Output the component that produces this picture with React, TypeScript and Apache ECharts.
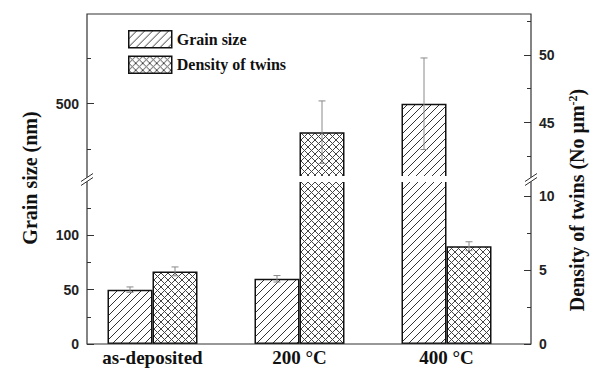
import React, { useEffect, useRef } from "react";
import * as echarts from "echarts";

// ---- data ----
const categories = ["as-deposited", "200 °C", "400 °C"];
const grainSize = [50, 60, 500];
const grainSizeErr = [2.5, 3, 25];
const twinDensity = [4.9, 44.3, 6.6];
const twinDensityErr = [0.3, 2.3, 0.3];

// axis ranges (broken axes)
const leftLowerRange = [0, 150];
const leftUpperRange = [460, 549];
const rightLowerRange = [0, 11];
const rightUpperRange = [41, 53];

// tick labels / ticks
const leftLowerLabels = [0, 50, 100];
const leftLowerMinor = [25, 75, 125];
const leftUpperLabels = [500];
const leftUpperMinor = [475, 525];
const rightLowerLabels = [0, 5, 10];
const rightLowerMinor = [2.5, 7.5];
const rightUpperLabels = [45, 50];
const rightUpperMinor = [42.5, 47.5, 52.5];

const leftTitle = "Grain size (nm)";
const rightTitle = "Density of twins (No μm{sup|-2})";

// ---- layout ----
const FRAME_L = 87;
const FRAME_R = 531;
const FRAME_T = 14;
const FRAME_B = 344;
const UPPER_BOTTOM = 177;
const LOWER_TOP = 181;
const GRID_LEFT = 79;
const GRID_WIDTH = 441;
const BAR_W = 45;

function makeHatch(size: number, cross: boolean) {
  const c = document.createElement("canvas");
  c.width = size;
  c.height = size;
  const g = c.getContext("2d")!;
  g.fillStyle = "#fff";
  g.fillRect(0, 0, size, size);
  g.strokeStyle = cross ? "#444" : "#333";
  g.lineWidth = 1;
  g.beginPath();
  g.moveTo(-1, size + 1);
  g.lineTo(size + 1, -1);
  g.moveTo(-1, 1);
  g.lineTo(1, -1);
  g.moveTo(size - 1, size + 1);
  g.lineTo(size + 1, size - 1);
  if (cross) {
    g.moveTo(-1, -1);
    g.lineTo(size + 1, size + 1);
    g.moveTo(size - 1, -1);
    g.lineTo(size + 1, 1);
    g.moveTo(-1, size - 1);
    g.lineTo(1, size + 1);
  }
  g.stroke();
  return { image: c.toDataURL(), repeat: "repeat", imageWidth: size, imageHeight: size };
}

const tickFont = {
  fontFamily: '"Liberation Sans", Arial, sans-serif',
  fontWeight: "bold" as const,
  fontSize: 14,
  color: "#222",
};

const serif = '"Liberation Serif", "Times New Roman", serif';

function yAxisDef(
  gridIndex: number,
  position: "left" | "right",
  range: number[],
  values: number[],
  major: boolean
) {
  return {
    type: "value",
    gridIndex,
    position,
    offset: position === "left" ? GRID_LEFT - FRAME_L : FRAME_R - (GRID_LEFT + GRID_WIDTH),
    min: range[0],
    max: range[1],
    axisLine: { show: false },
    splitLine: { show: false },
    axisTick: {
      show: true,
      inside: true,
      length: major ? 7 : 4,
      customValues: values,
      lineStyle: { color: "#333", width: 1 },
    },
    axisLabel: major
      ? { show: true, customValues: values, margin: 8, ...tickFont }
      : { show: false },
  };
}

function errorSeries(
  name: string,
  xAxisIndex: number,
  yAxisIndex: number,
  values: number[],
  errs: number[],
  range: number[],
  side: number
) {
  const data: number[][] = [];
  values.forEach((v, i) => {
    if (v >= range[0] && v <= range[1]) data.push([i, v, errs[i], side]);
  });
  return {
    type: "custom",
    name,
    xAxisIndex,
    yAxisIndex,
    z: 10,
    clip: true,
    encode: { x: 0, y: 1 },
    data,
    renderItem: (_params: any, api: any) => {
      const xi = api.value(0);
      const v = api.value(1);
      const e = api.value(2);
      const s = api.value(3);
      const top = api.coord([xi, v + e]);
      const bot = api.coord([xi, v - e]);
      const x = top[0] + (s * BAR_W) / 2;
      const cap = 3.5;
      const style = { stroke: "#8a8a8a", lineWidth: 1 };
      return {
        type: "group",
        children: [
          { type: "line", shape: { x1: x, y1: top[1], x2: x, y2: bot[1] }, style },
          { type: "line", shape: { x1: x - cap, y1: top[1], x2: x + cap, y2: top[1] }, style },
          { type: "line", shape: { x1: x - cap, y1: bot[1], x2: x + cap, y2: bot[1] }, style },
        ],
      };
    },
  };
}

function breakMark(cx: number, cy: number) {
  const pts = [
    [cx - 6, cy + 2.5],
    [cx + 6, cy - 5.5],
    [cx + 6, cy - 1.5],
    [cx - 6, cy + 6.5],
  ];
  return [
    { type: "polygon", z: 60, shape: { points: pts }, style: { fill: "#fff", stroke: "none" } },
    {
      type: "line",
      z: 61,
      shape: { x1: pts[0][0], y1: pts[0][1], x2: pts[1][0], y2: pts[1][1] },
      style: { stroke: "#333", lineWidth: 1 },
    },
    {
      type: "line",
      z: 61,
      shape: { x1: pts[3][0], y1: pts[3][1], x2: pts[2][0], y2: pts[2][1] },
      style: { stroke: "#333", lineWidth: 1 },
    },
  ];
}

export default function App() {
  const ref = useRef<HTMLDivElement>(null);

  useEffect(() => {
    if (!ref.current) return;
    const chart = echarts.init(ref.current, undefined, { renderer: "svg" });
    const hatch = makeHatch(8, false);
    const crossHatch = makeHatch(7, true);
    const barBorder = { borderColor: "#111", borderWidth: 1.5 };

    const option: any = {
      animation: false,
      backgroundColor: "#fff",
      legend: {
        data: ["Grain size", "Density of twins"],
        orient: "vertical",
        left: 123,
        top: 25,
        itemWidth: 43,
        itemHeight: 17,
        itemGap: 7,
        icon: "rect",
        selectedMode: false,
        itemStyle: { borderColor: "#111", borderWidth: 1.5 },
        textStyle: {
          fontFamily: serif,
          fontWeight: "bold",
          fontSize: 16,
          color: "#111",
        },
      },
      grid: [
        { left: GRID_LEFT, width: GRID_WIDTH, top: FRAME_T, height: UPPER_BOTTOM - FRAME_T },
        { left: GRID_LEFT, width: GRID_WIDTH, top: LOWER_TOP, height: FRAME_B - LOWER_TOP },
      ],
      xAxis: [
        { type: "category", gridIndex: 0, data: categories, show: false },
        {
          type: "category",
          gridIndex: 1,
          data: categories,
          axisLine: { show: false },
          axisTick: { show: false },
          axisLabel: {
            margin: 4,
            fontFamily: serif,
            fontWeight: "bold",
            fontSize: 19,
            color: "#111",
          },
        },
      ],
      yAxis: [
        yAxisDef(0, "left", leftUpperRange, leftUpperLabels, true),
        yAxisDef(0, "left", leftUpperRange, leftUpperMinor, false),
        yAxisDef(0, "right", rightUpperRange, rightUpperLabels, true),
        yAxisDef(0, "right", rightUpperRange, rightUpperMinor, false),
        yAxisDef(1, "left", leftLowerRange, leftLowerLabels, true),
        yAxisDef(1, "left", leftLowerRange, leftLowerMinor, false),
        yAxisDef(1, "right", rightLowerRange, rightLowerLabels, true),
        yAxisDef(1, "right", rightLowerRange, rightLowerMinor, false),
      ],
      series: [
        {
          type: "bar",
          name: "Grain size",
          xAxisIndex: 0,
          yAxisIndex: 0,
          barWidth: BAR_W,
          barGap: "0%",
          clip: true,
          itemStyle: { color: hatch, ...barBorder },
          data: grainSize.map((v) => (v > leftUpperRange[0] ? v : "-")),
        },
        {
          type: "bar",
          name: "Density of twins",
          xAxisIndex: 0,
          yAxisIndex: 2,
          barWidth: BAR_W,
          barGap: "0%",
          clip: true,
          itemStyle: { color: crossHatch, ...barBorder },
          data: twinDensity.map((v) => (v > rightUpperRange[0] ? v : "-")),
        },
        {
          type: "bar",
          name: "Grain size",
          xAxisIndex: 1,
          yAxisIndex: 4,
          barWidth: BAR_W,
          barGap: "0%",
          clip: true,
          itemStyle: { color: hatch, ...barBorder },
          data: grainSize,
        },
        {
          type: "bar",
          name: "Density of twins",
          xAxisIndex: 1,
          yAxisIndex: 6,
          barWidth: BAR_W,
          barGap: "0%",
          clip: true,
          itemStyle: { color: crossHatch, ...barBorder },
          data: twinDensity,
        },
        errorSeries("grainErrUpper", 0, 0, grainSize, grainSizeErr, leftUpperRange, -1),
        errorSeries("twinErrUpper", 0, 2, twinDensity, twinDensityErr, rightUpperRange, 1),
        errorSeries("grainErrLower", 1, 4, grainSize, grainSizeErr, leftLowerRange, -1),
        errorSeries("twinErrLower", 1, 6, twinDensity, twinDensityErr, rightLowerRange, 1),
      ],
      graphic: [
        {
          type: "rect",
          z: 40,
          shape: { x: FRAME_L, y: FRAME_T, width: FRAME_R - FRAME_L, height: FRAME_B - FRAME_T },
          style: { fill: "none", stroke: "#333", lineWidth: 1.2 },
        },
        {
          type: "rect",
          z: 50,
          shape: { x: FRAME_L + 1, y: UPPER_BOTTOM - 1, width: FRAME_R - FRAME_L - 2, height: LOWER_TOP - UPPER_BOTTOM + 2 },
          style: { fill: "#fff", stroke: "none" },
        },
        ...breakMark(FRAME_L, (UPPER_BOTTOM + LOWER_TOP) / 2),
        ...breakMark(FRAME_R, (UPPER_BOTTOM + LOWER_TOP) / 2),
        {
          type: "text",
          z: 60,
          x: 30,
          y: 178,
          rotation: Math.PI / 2,
          style: {
            text: leftTitle,
            fontFamily: serif,
            fontWeight: "bold",
            fontSize: 20,
            fill: "#111",
            align: "center",
            verticalAlign: "middle",
          },
        },
        {
          type: "text",
          z: 60,
          x: 577,
          y: 200,
          rotation: Math.PI / 2,
          style: {
            text: rightTitle,
            fontFamily: serif,
            fontWeight: "bold",
            fontSize: 20,
            fill: "#111",
            align: "center",
            verticalAlign: "middle",
            rich: {
              sup: {
                fontFamily: serif,
                fontWeight: "bold",
                fontSize: 12,
                fill: "#111",
                verticalAlign: "top",
              },
            },
          },
        },
      ],
    };

    chart.setOption(option);
    return () => chart.dispose();
  }, []);

  return (
    <div
      ref={ref}
      style={{ position: "fixed", left: 0, top: 0, width: 601, height: 370, background: "#fff" }}
    />
  );
}
